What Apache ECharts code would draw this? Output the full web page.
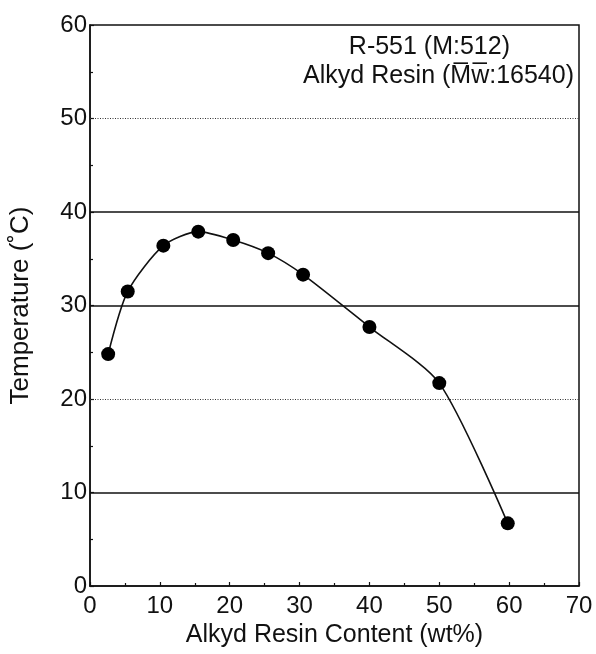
<!DOCTYPE html>
<html>
<head>
<meta charset="utf-8">
<script src="https://cdn.jsdelivr.net/npm/echarts@6/dist/echarts.min.js"></script>
<style>
html,body{margin:0;padding:0;background:#fff;}
#chart{width:596px;height:654px;}
</style>
</head>
<body>
<div id="chart"></div>
<script>
// Data
var resinContent = [2.6, 5.4, 10.5, 15.5, 20.5, 25.5, 30.5, 40, 50, 59.8];
var temperature  = [24.8, 31.5, 36.4, 37.9, 37.0, 35.6, 33.3, 27.7, 21.7, 6.7];
var solidGridValues  = [10, 30, 40];
var dottedGridValues = [20, 50];
var xTicks = [0, 10, 20, 30, 40, 50, 60, 70];
var yTicks = [0, 10, 20, 30, 40, 50, 60];
var annotationLine1 = 'R-551 (M:512)';
var annotationLine2 = 'Alkyd Resin (M\u0305w\u0305:16540)';

var FONT = '"Liberation Sans", Arial, Helvetica, sans-serif';
var chart = echarts.init(document.getElementById('chart'), null, {renderer: 'canvas'});

var points = resinContent.map(function (x, i) { return [x, temperature[i]]; });
var gridLines = solidGridValues.map(function (v) {
  return {yAxis: v, lineStyle: {type: 'solid', width: 1.5, color: '#111'}};
}).concat(dottedGridValues.map(function (v) {
  return {yAxis: v, lineStyle: {type: [1, 1.5], width: 1, color: '#333'}};
}));

chart.setOption({
  animation: false,
  backgroundColor: '#fff',
  grid: {left: 89, right: 17, top: 25, bottom: 68, show: true, borderColor: '#111', borderWidth: 1.5, backgroundColor: 'transparent'},
  xAxis: {
    type: 'value', min: xTicks[0], max: xTicks[xTicks.length - 1], interval: 10,
    name: 'Alkyd Resin Content (wt%)', nameLocation: 'middle', nameGap: 36,
    nameTextStyle: {fontFamily: FONT, fontSize: 25, color: '#111'},
    axisLine: {lineStyle: {color: '#111', width: 1.5}},
    axisTick: {inside: true, length: 4, lineStyle: {color: '#111', width: 1.2}},
    minorTick: {show: true, splitNumber: 2, length: 3, lineStyle: {color: '#111', width: 1.2}},
    axisLabel: {fontFamily: FONT, fontSize: 24, color: '#111', margin: 8},
    splitLine: {show: false}
  },
  yAxis: {
    type: 'value', min: yTicks[0], max: yTicks[yTicks.length - 1], interval: 10,
    name: 'Temperature (\u02DAC)', nameLocation: 'middle', nameGap: 56, nameRotate: 90,
    nameTextStyle: {fontFamily: FONT, fontSize: 26, color: '#111'},
    axisLine: {lineStyle: {color: '#111', width: 1.5}},
    axisTick: {inside: true, length: 4, lineStyle: {color: '#111', width: 1.2}},
    minorTick: {show: true, splitNumber: 2, length: 3, lineStyle: {color: '#111', width: 1.2}},
    axisLabel: {fontFamily: FONT, fontSize: 24, color: '#111', margin: 3, verticalAlign: 'middle', padding: [0, 0, 11, 0]},
    splitLine: {show: false}
  },
  graphic: [
    {type: 'text', right: 86, top: 35, style: {text: annotationLine1, font: '25px ' + FONT, fill: '#111'}},
    {type: 'text', right: 22, top: 64, style: {text: annotationLine2, font: '25px ' + FONT, fill: '#111'}}
  ],
  series: [{
    type: 'line',
    data: points,
    smooth: 0.25,
    symbol: 'circle',
    symbolSize: 14,
    itemStyle: {color: '#000'},
    lineStyle: {color: '#111', width: 1.6},
    markLine: {silent: true, symbol: 'none', label: {show: false}, data: gridLines},
    z: 5
  }]
});
</script>
</body>
</html>
